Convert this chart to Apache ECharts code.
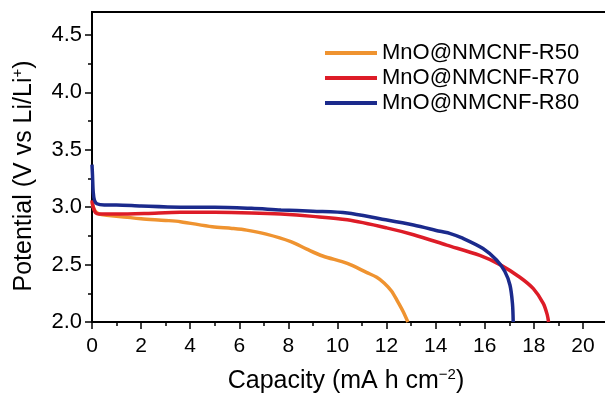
<!DOCTYPE html>
<html><head><meta charset="utf-8">
<script src="https://cdn.jsdelivr.net/npm/echarts@6/dist/echarts.min.js"></script>
<style>html,body{margin:0;padding:0;background:#fff}#c{width:605px;height:398px}</style>
</head><body><div id="c"></div>
<script>
const seriesNames = ['MnO@NMCNF-R50', 'MnO@NMCNF-R70', 'MnO@NMCNF-R80'];
const seriesColors = ['#EF9330', '#DD1C27', '#1B2A8C'];

const capR50 = [0, 0.05, 0.15, 0.3, 0.6, 1, 2, 3, 3.6, 4.9, 5.7, 6.3, 7.1, 8.1, 8.75, 9.4, 10.4, 11.2, 11.6, 11.9, 12.2, 12.45, 12.68, 12.87];
const volR50 = [3.05, 3.0, 2.96, 2.94, 2.93, 2.92, 2.90, 2.885, 2.874, 2.83, 2.815, 2.80, 2.765, 2.70, 2.635, 2.575, 2.51, 2.43, 2.39, 2.34, 2.27, 2.18, 2.09, 2.0];

const capR70 = [0, 0.05, 0.15, 0.3, 1, 2.2, 3.6, 5, 6.5, 7.7, 9, 10.4, 12.0, 13.1, 14.45, 15.8, 16.62, 17.43, 17.98, 18.39, 18.55, 18.6];
const volR70 = [3.06, 3.0, 2.95, 2.94, 2.94, 2.945, 2.955, 2.955, 2.95, 2.94, 2.92, 2.89, 2.82, 2.76, 2.67, 2.58, 2.50, 2.39, 2.29, 2.16, 2.06, 2.0];

const capR80 = [0, 0.02, 0.05, 0.1, 0.2, 0.5, 1, 2, 3.6, 5, 6.5, 7.7, 9, 10.4, 11.73, 13.1, 14.18, 14.6, 15.1, 15.93, 16.48, 16.82, 17.03, 17.13, 17.16];
const volR80 = [3.37, 3.28, 3.13, 3.06, 3.03, 3.02, 3.02, 3.01, 3.0, 3.0, 2.99, 2.976, 2.965, 2.95, 2.90, 2.845, 2.79, 2.77, 2.73, 2.64, 2.54, 2.44, 2.32, 2.16, 2.0];

const yMajorTicks = [2.0, 2.5, 3.0, 3.5, 4.0, 4.5];
const yMinorTicks = [2.25, 2.75, 3.25, 3.75, 4.25];

const FONT = 'Liberation Sans, Arial, Helvetica, sans-serif';
const caps = [capR50, capR70, capR80];
const vols = [volR50, volR70, volR80];

const titleRich = {
  n: {fontFamily: FONT, fontSize: 25, lineHeight: 28, fill: '#000', color: '#000'},
  s: {fontFamily: FONT, fontSize: 15, lineHeight: 17, verticalAlign: 'top', fill: '#000', color: '#000'}
};

const chart = echarts.init(document.getElementById('c'), null, {renderer: 'canvas'});
chart.setOption({
  animation: false,
  backgroundColor: '#fff',
  textStyle: {fontFamily: FONT},
  grid: {left: 92, right: -27, top: 12, bottom: 76, show: true, borderColor: '#000', borderWidth: 2, outerBoundsMode: 'none', containLabel: false},
  legend: {
    orient: 'vertical', left: 325, top: 42, padding: 0,
    itemWidth: 52, itemHeight: 4, itemGap: 3, icon: 'rect',
    textStyle: {fontFamily: FONT, fontSize: 22, lineHeight: 22, color: '#000'},
    data: seriesNames
  },
  graphic: [
    {type: 'text', x: 346, y: 381, silent: true,
      style: {text: '{n|Capacity (mA h cm}{s|−2}{n|)}', align: 'center', verticalAlign: 'middle', rich: titleRich}},
    {type: 'text', x: 24, y: 176, rotation: Math.PI / 2, silent: true,
      style: {text: '{n|Potential (V vs Li/Li}{s|+}{n|)}', align: 'center', verticalAlign: 'middle', rich: titleRich}}
  ],
  xAxis: {
    type: 'value', min: 0, max: 22, interval: 2, position: 'bottom',
    axisLine: {show: true, lineStyle: {color: '#000', width: 2}},
    axisTick: {show: true, length: 7, lineStyle: {color: '#000', width: 1.5}},
    minorTick: {show: true, splitNumber: 2, length: 4, lineStyle: {color: '#000', width: 1.5}},
    splitLine: {show: false},
    axisLabel: {fontFamily: FONT, fontSize: 21, color: '#000', margin: 14,
      formatter: v => (v > 20 ? '' : String(v))}
  },
  yAxis: [{
    type: 'value', min: 2, max: 4.7, position: 'left',
    axisLine: {show: true, lineStyle: {color: '#000', width: 2}},
    axisTick: {show: true, length: 7, customValues: yMajorTicks, lineStyle: {color: '#000', width: 1.5}},
    splitLine: {show: false},
    axisLabel: {fontFamily: FONT, fontSize: 22, color: '#000', margin: 10, customValues: yMajorTicks,
      formatter: v => Number(v).toFixed(1)}
  }, {
    type: 'value', min: 2, max: 4.7, position: 'left',
    axisLine: {show: false},
    axisTick: {show: true, length: 4, customValues: yMinorTicks, lineStyle: {color: '#000', width: 1.5}},
    axisLabel: {show: false},
    splitLine: {show: false}
  }],
  series: seriesNames.map((name, i) => ({
    name: name,
    type: 'line',
    yAxisIndex: 0,
    showSymbol: false,
    symbol: 'none',
    smooth: 0.3,
    color: seriesColors[i],
    lineStyle: {color: seriesColors[i], width: 3.5},
    data: caps[i].map((c, j) => [c, vols[i][j]])
  }))
});
</script></body></html>
